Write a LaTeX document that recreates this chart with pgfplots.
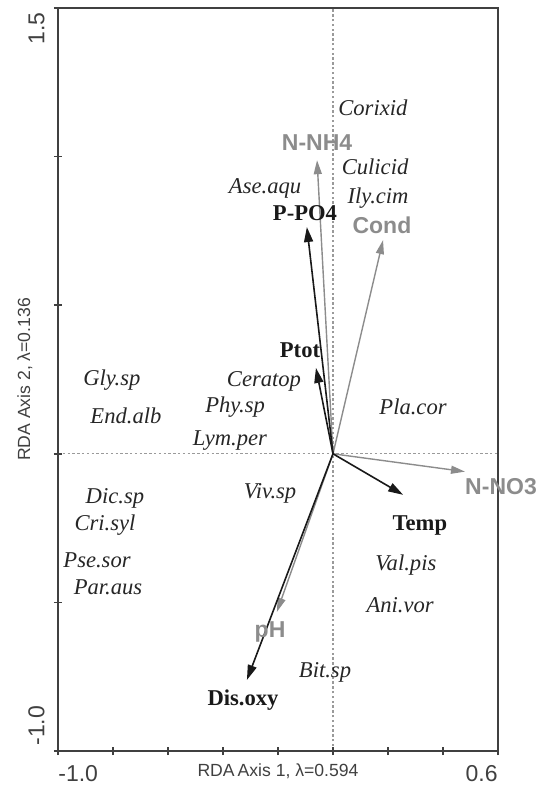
\documentclass[border=0pt]{standalone}
\usepackage{fontspec}
\setmainfont{Liberation Serif}
\setsansfont{Liberation Sans}
\usepackage{pgfplots}
\usepackage{pgfplotstable}
\pgfplotsset{compat=1.18}
\usetikzlibrary{arrows.meta}
\definecolor{envgray}{HTML}{8C8C8C}
\definecolor{axgray}{HTML}{404040}
\definecolor{dotgray}{HTML}{9A9A9A}

\pgfplotstableread{
x y lab
0.145 1.163 Corixid
0.153 0.965 Culicid
0.164 0.861 Ily.cim
-0.247 0.894 Ase.aqu
-0.804 0.249 Gly.sp
-0.753 0.127 End.alb
-0.251 0.242 Ceratop
-0.356 0.157 Phy.sp
-0.375 0.046 Lym.per
-0.229 -0.132 Viv.sp
-0.793 -0.149 Dic.sp
-0.829 -0.239 Cri.syl
-0.858 -0.357 Pse.sor
-0.818 -0.448 Par.aus
0.291 0.157 Pla.cor
0.265 -0.373 Val.pis
0.244 -0.508 Ani.vor
-0.029 -0.734 Bit.sp
}\species

\pgfplotstableread{
x y lab
-0.058 1.046 N-NH4
0.178 0.770 Cond
0.611 -0.112 N-NO3
-0.229 -0.600 pH
}\envgraylab

\pgfplotstableread{
x y lab
-0.102 0.810 P-PO4
-0.120 0.349 Ptot
0.316 -0.240 Temp
-0.327 -0.828 Dis.oxy
}\envblacklab

\begin{document}
\begin{tikzpicture}
\begin{axis}[
  scale only axis,
  width=220pt, height=371.5pt,
  xmin=-1.0, xmax=0.6, ymin=-1.0, ymax=1.5,
  clip=false,
  axis on top,
  axis line style={axgray, line width=1pt},
  every tick/.style={axgray, line width=0.8pt},
  tick align=center,
  major tick length=4pt,
  xtick pos=lower, ytick pos=left,
  xtick={-1,-0.8,-0.6,-0.4,-0.2,0,0.2,0.4},
  xticklabels={-1.0},
  extra x ticks={0.6},
  extra x tick labels={0.6},
  extra x tick style={xticklabel style={anchor=north east}},
  ytick={-1,-0.5,0,0.5,1},
  yticklabels={-1.0},
  extra y ticks={1.5},
  extra y tick labels={1.5},
  extra y tick style={yticklabel style={anchor=south east, xshift=-4.5pt}},
  xticklabel style={anchor=north west, inner sep=0pt, yshift=-5pt, text=axgray},
  yticklabel style={rotate=90, anchor=south west, inner sep=0pt, yshift=4.5pt, xshift=2.5pt, text=axgray},
  ticklabel style={font=\sffamily\fontsize{11.5}{12}\selectfont},
  /pgf/number format/assume math mode=true,
  xlabel={RDA\,Axis 1, λ=0.594},
  ylabel={RDA Axis 2, λ=0.136},
  xlabel style={at={(axis description cs:0.5,0)}, anchor=north, inner sep=0pt, yshift=-6pt, font=\sffamily\fontsize{8.8}{10}\selectfont, text=axgray},
  ylabel style={at={(axis description cs:0,0.5)}, anchor=center, inner sep=0pt, yshift=16.5pt, font=\sffamily\fontsize{8.8}{10}\selectfont, text=axgray},
]
% zero lines
\addplot[dotgray, line width=0.6pt, dash pattern=on 1.2pt off 1.2pt] coordinates {(0,-1) (0,1.5)};
\addplot[dotgray, line width=0.6pt, dash pattern=on 1.2pt off 1.2pt] coordinates {(-1,0) (0.6,0)};

% gray arrows (N-NH4, Cond, N-NO3, pH)
\addplot[envgray, line width=0.7pt, -{Triangle[length=7pt,width=4pt]}] coordinates {(0,0) (-0.058,0.988)};
\addplot[envgray, line width=0.7pt, -{Triangle[length=7pt,width=4pt]}] coordinates {(0,0) (0.182,0.719)};
\addplot[envgray, line width=0.7pt, -{Triangle[length=7pt,width=4pt]}] coordinates {(0,0) (0.480,-0.060)};
\addplot[envgray, line width=0.7pt, -{Triangle[length=7pt,width=4pt]}] coordinates {(0,0) (-0.204,-0.532)};

% black arrows (P-PO4, Ptot, Temp, Dis.oxy)
\addplot[black!90, line width=0.8pt, -{Triangle[length=7.5pt,width=4.5pt]}] coordinates {(0,0) (-0.095,0.763)};
\addplot[black!90, line width=0.8pt, -{Triangle[length=7.5pt,width=4.5pt]}] coordinates {(0,0) (-0.062,0.289)};
\addplot[black!90, line width=0.8pt, -{Triangle[length=7.5pt,width=4.5pt]}] coordinates {(0,0) (0.255,-0.138)};
\addplot[black!90, line width=0.8pt, -{Triangle[length=7.5pt,width=4.5pt]}] coordinates {(0,0) (-0.313,-0.761)};

% species labels
\addplot[only marks, mark=none, nodes near coords, point meta=explicit symbolic,
  nodes near coords style={anchor=center, inner sep=0pt, text=black!85, font=\itshape\fontsize{11.3}{12}\selectfont}]
  table[x=x, y=y, meta=lab] {\species};

% env labels gray
\addplot[only marks, mark=none, nodes near coords, point meta=explicit symbolic,
  nodes near coords style={anchor=center, inner sep=0pt, text=envgray, font=\sffamily\bfseries\fontsize{11.5}{12}\selectfont}]
  table[x=x, y=y, meta=lab] {\envgraylab};

% env labels black
\addplot[only marks, mark=none, nodes near coords, point meta=explicit symbolic,
  nodes near coords style={anchor=center, inner sep=0pt, text=black!90, font=\bfseries\fontsize{11.3}{12}\selectfont}]
  table[x=x, y=y, meta=lab] {\envblacklab};

\coordinate (sw) at (rel axis cs:0,0);
\coordinate (ne) at (rel axis cs:1,1);
\end{axis}
\pgfresetboundingbox
\path ([shift={(-29pt,-18pt)}]sw) rectangle ([shift={(19pt,4pt)}]ne);
\end{tikzpicture}
\end{document}
